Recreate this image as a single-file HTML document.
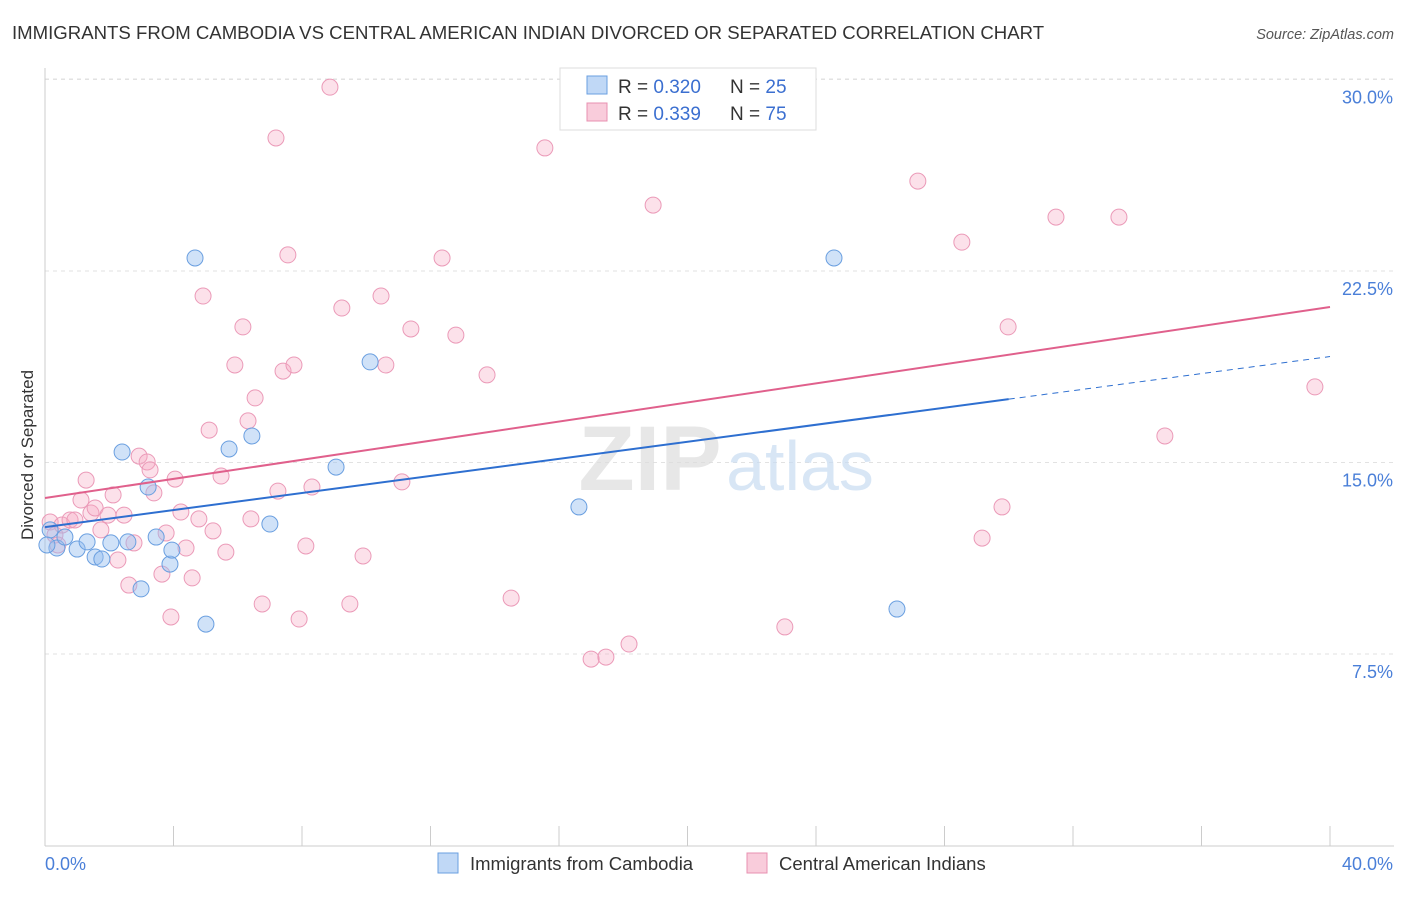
<!DOCTYPE html>
<html><head><meta charset="utf-8"><style>
body{margin:0;background:#fff;font-family:"Liberation Sans",sans-serif;}
svg text{font-family:"Liberation Sans",sans-serif;}
</style></head><body>
<svg id="chart" width="1406" height="892">
<text x="12" y="39" font-size="18.6" fill="#333">IMMIGRANTS FROM CAMBODIA VS CENTRAL AMERICAN INDIAN DIVORCED OR SEPARATED CORRELATION CHART</text>
<text x="1394" y="39" font-size="14.5" fill="#555" text-anchor="end" font-style="italic">Source: ZipAtlas.com</text>
<text transform="translate(33,455) rotate(-90)" font-size="17" fill="#333" text-anchor="middle">Divorced or Separated</text>
<g id="grid"></g>
<g id="axes"></g>
<text x="650" y="490" font-size="92" fill="#ddd" font-family="Liberation Serif" font-weight="bold" text-anchor="middle" opacity="0.7">ZIP</text>
<text x="800" y="490" font-size="70" fill="#c8dcf2" text-anchor="middle" opacity="0.7">atlas</text>
<g id="points"></g>
<g id="trends"></g>
<g>
<rect x="560" y="68" width="256" height="62" fill="#fff" stroke="#ddd"/>
<rect x="587" y="76" width="20" height="18" fill="rgba(150,190,240,0.6)" stroke="#6a9fe0"/>
<rect x="587" y="103" width="20" height="18" fill="rgba(245,170,195,0.6)" stroke="#e890b0"/>
<text x="618" y="93" font-size="19" fill="#333">R = <tspan fill="#3b6fd0">0.320</tspan></text>
<text x="730" y="93" font-size="19" fill="#333">N = <tspan fill="#3b6fd0">25</tspan></text>
<text x="618" y="120" font-size="19" fill="#333">R = <tspan fill="#3b6fd0">0.339</tspan></text>
<text x="730" y="120" font-size="19" fill="#333">N = <tspan fill="#3b6fd0">75</tspan></text>
</g>
<g>
<rect x="438" y="853" width="20" height="20" fill="rgba(150,190,240,0.6)" stroke="#6a9fe0"/>
<text x="470" y="870" font-size="18.5" fill="#333">Immigrants from Cambodia</text>
<rect x="747" y="853" width="20" height="20" fill="rgba(245,170,195,0.6)" stroke="#e890b0"/>
<text x="779" y="870" font-size="18.5" fill="#333">Central American Indians</text>
</g>
</svg>
<script>
const yTicks=[7.5,15,22.5,30];
const yTickLabels=["7.5%","15.0%","22.5%","30.0%"];
const xTicks=[0,4,8,12,16,20,24,28,32,36,40];
const blueX=[0.16,0.37,0.06,0.62,1.00,1.31,1.56,1.77,2.05,2.40,2.58,2.99,3.21,3.46,3.89,3.95,4.67,5.01,5.73,6.44,7.00,9.06,10.12,16.62,24.56,26.52];
const blueY=[12.36,11.65,11.77,12.08,11.61,11.89,11.30,11.22,11.85,15.41,11.89,10.05,14.04,12.08,11.02,11.57,23.01,8.67,15.53,16.04,12.59,14.82,18.94,13.26,23.01,9.26];
const pinkX=[0.16,0.31,0.40,0.53,0.78,0.93,1.12,1.28,1.43,1.56,1.74,1.96,2.12,2.27,2.46,2.61,2.77,2.93,3.18,3.27,3.39,3.64,3.77,3.92,4.05,4.23,4.39,4.58,4.79,4.92,5.11,5.23,5.48,5.63,5.91,6.16,6.32,6.41,6.54,6.76,7.19,7.25,7.41,7.56,7.75,7.91,8.12,8.31,8.87,9.24,9.49,9.90,10.46,10.61,11.11,11.39,12.36,12.79,13.76,14.51,15.56,17.00,17.46,18.18,18.93,23.03,27.17,28.54,29.17,29.79,29.98,31.47,33.43,34.86,39.53];
const pinkY=[12.67,12.16,11.77,12.55,12.75,12.75,13.53,14.31,13.02,13.22,12.36,12.94,13.73,11.18,12.94,10.20,11.85,15.25,15.02,14.71,13.81,10.63,12.24,8.95,14.35,13.06,11.65,10.48,12.79,21.52,16.27,12.32,14.47,11.49,18.82,20.31,16.63,12.79,17.53,9.46,27.71,13.88,18.58,23.13,18.82,8.87,11.73,14.04,29.70,21.05,9.46,11.34,21.52,18.82,14.24,20.23,23.01,19.99,18.43,9.69,27.32,7.30,7.38,7.89,25.08,8.56,26.02,23.63,12.04,13.26,20.31,24.61,24.61,16.04,17.96];
const blueTrend=[12.47,0.167];
const pinkTrend=[13.61,0.187];
const NS="http://www.w3.org/2000/svg";
const X=v=>45+v/40*1285;
const Y=v=>845.5-v/30*766;
function mk(tag,attrs,parent){const e=document.createElementNS(NS,tag);for(const k in attrs)e.setAttribute(k,attrs[k]);document.getElementById(parent).appendChild(e);return e;}
yTicks.forEach((t,i)=>{
 const g=mk('line',{x1:45,x2:1394,y1:Y(t),y2:Y(t),stroke:'#e2e2e2','stroke-dasharray':'4,4'},'grid');
 
 
 const l=mk('text',{x:1393,y:Y(t)+24,'font-size':18,fill:'#4a7fd8','text-anchor':'end'},'axes');
 l.textContent=yTickLabels[i];
 
 
});
const topGrid=mk('line',{x1:45,x2:1394,y1:79,y2:79,stroke:'#e2e2e2','stroke-dasharray':'4,4'},'grid');


const ya=mk('line',{x1:45,x2:45,y1:68,y2:846,stroke:'#ccc'},'axes');


const xa=mk('line',{x1:45,x2:1394,y1:846,y2:846,stroke:'#ccc'},'axes');


xTicks.forEach(t=>{
 const e=mk('line',{x1:X(t),x2:X(t),y1:826,y2:846,stroke:'#ccc'},'axes');
 
 
});
const xl0=mk('text',{x:45,y:870,'font-size':18,fill:'#4a7fd8'},'axes');xl0.textContent='0.0%';


const xl1=mk('text',{x:1393,y:870,'font-size':18,fill:'#4a7fd8','text-anchor':'end'},'axes');xl1.textContent='40.0%';


pinkX.forEach((x,i)=>{
 const c=mk('circle',{cx:X(x),cy:Y(pinkY[i]),r:8,fill:'rgba(245,170,195,0.35)',stroke:'#eb9ab8','stroke-width':1},'points');
 
 
});
blueX.forEach((x,i)=>{
 const c=mk('circle',{cx:X(x),cy:Y(blueY[i]),r:8,fill:'rgba(150,190,240,0.45)',stroke:'#6a9fe0','stroke-width':1},'points');
 
 
});
const b1=mk('line',{x1:X(0),y1:Y(blueTrend[0]),x2:X(30),y2:Y(blueTrend[0]+blueTrend[1]*30),stroke:'#2e6fd0','stroke-width':2},'trends');


const b2=mk('line',{x1:X(30),y1:Y(blueTrend[0]+blueTrend[1]*30),x2:X(40),y2:Y(blueTrend[0]+blueTrend[1]*40),stroke:'#2e6fd0','stroke-width':1,'stroke-dasharray':'6,5'},'trends');


const p1=mk('line',{x1:X(0),y1:Y(pinkTrend[0]),x2:X(40),y2:Y(pinkTrend[0]+pinkTrend[1]*40),stroke:'#e0608c','stroke-width':2},'trends');


</script>
</body></html>
